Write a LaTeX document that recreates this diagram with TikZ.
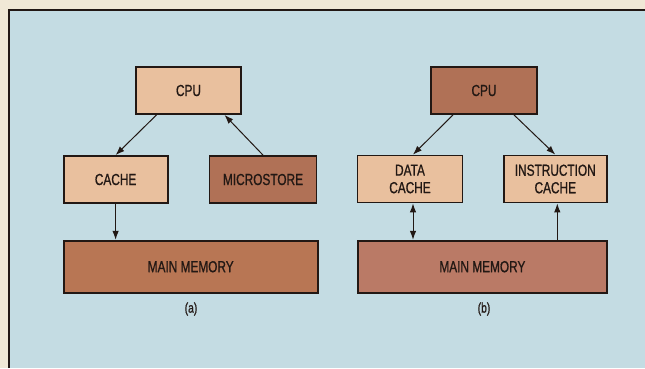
\documentclass[tikz,border=0pt]{standalone}
\usepackage{xcolor}
\usepackage{fontspec}
\setmainfont{Liberation Sans}[FakeStretch=0.74, FakeBold=0.8]
\usetikzlibrary{arrows.meta}
\definecolor{paper}{RGB}{240,232,214}
\definecolor{bgblue}{RGB}{196,220,227}
\definecolor{lighttan}{RGB}{233,192,158}
\definecolor{darktan}{RGB}{176,113,86}
\definecolor{memtanA}{RGB}{184,118,84}
\definecolor{memtanB}{RGB}{186,122,102}
\definecolor{ink}{RGB}{34,24,20}
\tikzset{
  unit/.style={rectangle, draw=ink, line width=1.8pt, fill=lighttan, text=ink,
    align=center, font=\fontsize{16}{17.5}\selectfont, minimum height=47pt, inner sep=0pt},
  unitdark/.style={unit, fill=darktan},
  memblk/.style={unit, minimum height=52pt},
  caption/.style={font=\fontsize{14}{16}\selectfont, text=ink},
  link/.style={-{Latex[length=9pt,width=6.5pt]}, draw=ink, line width=1pt},
  biglink/.style={{Latex[length=9pt,width=6.5pt]}-{Latex[length=9pt,width=6.5pt]}, draw=ink, line width=1pt},
}

\begin{document}
\begin{tikzpicture}[x=1pt,y=-1pt]
% ---- page and frame ----
\useasboundingbox (0,0) rectangle (645,368);
\fill[paper] (0,0) rectangle (645,368);
\fill[bgblue] (9,10) rectangle (645,368);
\draw[ink, line width=2.4pt] (9,368) -- (9,10) -- (645,10);
% ---- (a) microstore organisation ----
\node[unit, minimum width=105pt] (cpuA) at (188.5,90.5) {CPU};
\node[unit, minimum width=104pt] (cacheA) at (115.6,179.5) {CACHE};
\node[unitdark, minimum width=107pt] (microA) at (263,179.5) {MICROSTORE};
\node[memblk, fill=memtanA, minimum width=254pt] (memA) at (190.7,266.7) {MAIN MEMORY};
\node[caption] (capA) at (191,309) {(a)};
% ---- (b) split caches ----
\node[unitdark, minimum width=106pt] (cpuB) at (484,90.5) {CPU};
\node[unit, minimum width=105pt] (dcacheB) at (410,179) {DATA\\CACHE};
\node[unit, minimum width=103pt] (icacheB) at (555.3,179) {INSTRUCTION\\CACHE};
\node[memblk, fill=memtanB, minimum width=249pt] (memB) at (482.4,266.7) {MAIN MEMORY};
\node[caption] (capB) at (484,309) {(b)};
% ---- arrows (a) ----
\draw[link] ([xshift=-32pt]cpuA.south) -- (cacheA.north);
\draw[link] (microA.north) -- ([xshift=36pt]cpuA.south);
\draw[link] (cacheA.south) -- (cacheA.south |- memA.north);
% ---- arrows (b) ----
\draw[link] ([xshift=-31pt]cpuB.south) -- ([xshift=3pt]dcacheB.north);
\draw[link] ([xshift=30pt]cpuB.south) -- (icacheB.north);
\draw[biglink] ([xshift=3pt]dcacheB.south) -- ([xshift=3pt]dcacheB.south |- memB.north);
\draw[link] ([xshift=2pt]icacheB.south |- memB.north) -- ([xshift=2pt]icacheB.south);
\end{tikzpicture}
\end{document}
